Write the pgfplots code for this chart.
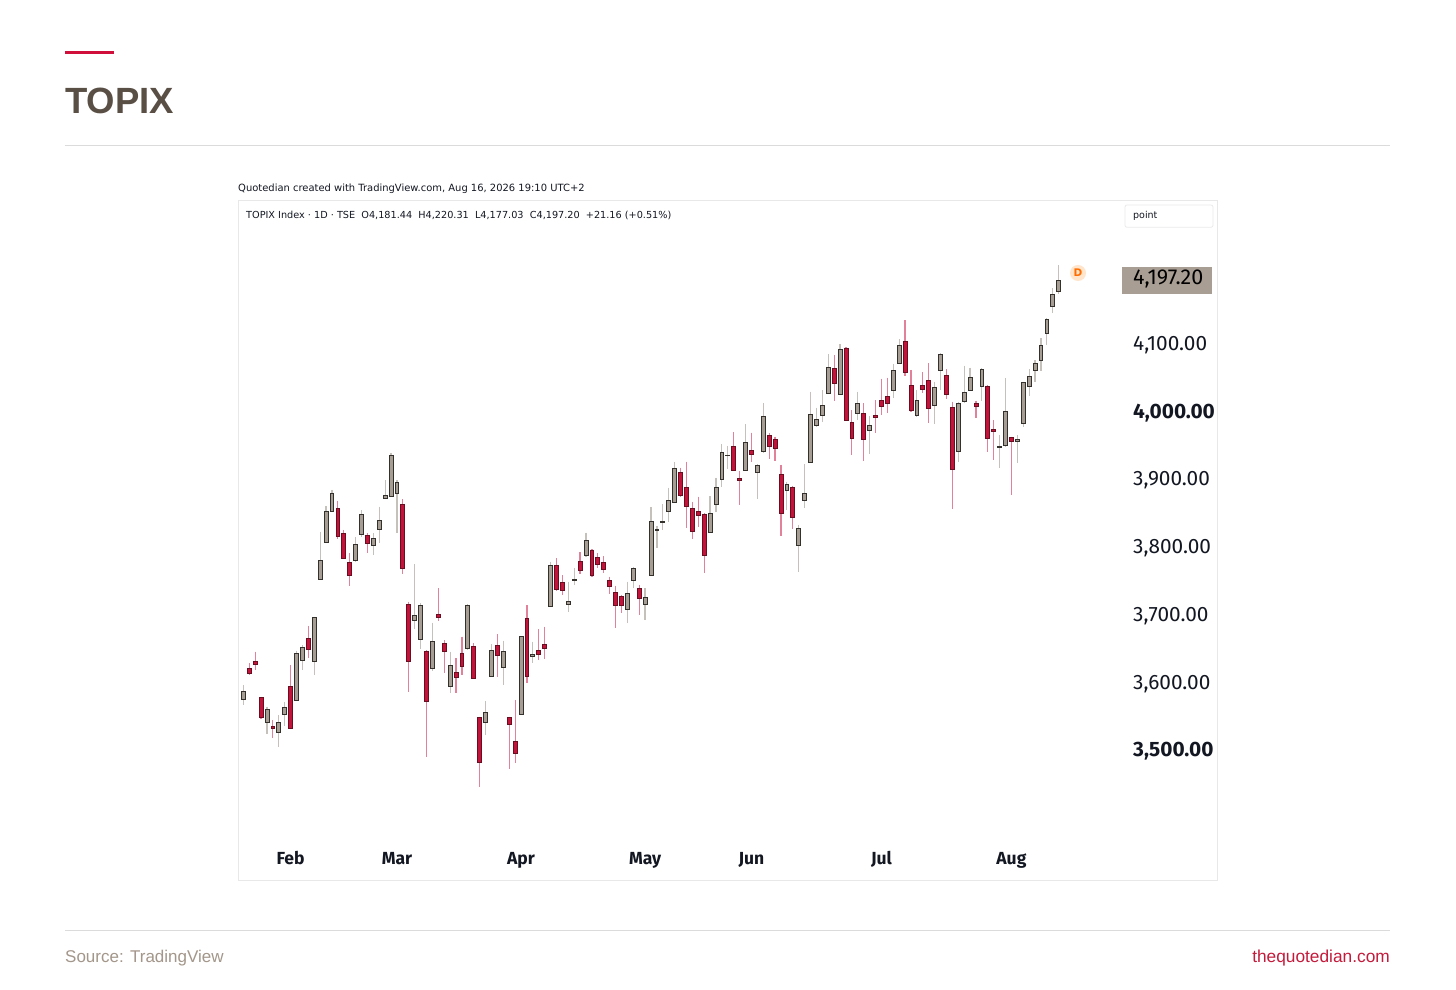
\documentclass[border=0pt]{standalone}
\usepackage{pgfplots}
\pgfplotsset{compat=1.18}
\usepackage{pgfplotstable}
\usepackage{fontspec}
\setmainfont{DejaVu Sans}
\newfontfamily\tickfont{Fira Sans}
\newfontfamily\brandfont{Liberation Sans}
\definecolor{upfill}{HTML}{A69E95}
\definecolor{upedge}{HTML}{34302C}
\definecolor{upwick}{HTML}{C6C0BA}
\definecolor{dnfill}{HTML}{C4133A}
\definecolor{dnedge}{HTML}{680E20}
\definecolor{dnwick}{HTML}{E2819A}
\definecolor{titlecol}{HTML}{5A4F45}
\definecolor{srccol}{HTML}{A3968A}
\definecolor{brandred}{HTML}{C41A3B}
\definecolor{barred}{HTML}{D0103A}
\definecolor{tvtext}{HTML}{131722}
\definecolor{pricebox}{HTML}{A99E94}

\pgfdeclareplotmark{blank}{}
\pgfplotsset{
  candle/.style n args={3}{
    scatter, only marks, mark=blank,
    visualization depends on={\thisrow{h}-\thisrow{c}\as\cndH},
    visualization depends on={\thisrow{l}-\thisrow{c}\as\cndL},
    visualization depends on={\thisrow{o}-\thisrow{c}\as\cndO},
    scatter/@pre marker code/.code={%
      \draw[#3, line width=1.2pt] (axis direction cs:0,\cndH) -- (axis direction cs:0,\cndL);
      \filldraw[fill=#1, draw=#2, line width=0.8pt] (axis direction cs:-0.33,0) rectangle (axis direction cs:0.33,\cndO);
    },
    scatter/@post marker code/.code={},
  },
}

% up (grey) candles: index, open, high, low, close
\pgfplotstableread{
k o h l c
1 3579.1 3600.3 3570.7 3590.4
5 3544.6 3568.2 3527.4 3564.4
7 3529.8 3555.9 3509.1 3545.6
8 3557.4 3575.6 3539.7 3566.7
10 3578.1 3650.9 3577.1 3647.1
11 3637.2 3659.3 3622.4 3655.9
13 3635.7 3701.2 3614.6 3699.7
14 3756.8 3826.7 3755.3 3784.4
15 3810.4 3864.6 3809.5 3856.2
16 3857.3 3888.3 3856.2 3883.4
20 3784.4 3818.4 3782.4 3808.1
21 3822.8 3858.7 3818.4 3852.8
23 3806.6 3824.3 3792.3 3816.3
24 3830.2 3863.6 3809.5 3844
25 3876 3903 3875 3880.4
26 3878.4 3942.5 3877.5 3940
27 3883.4 3903 3825.2 3899.6
30 3695.2 3779 3682.5 3703.6
31 3668.2 3721 3653 3717.4
33 3624.9 3692.3 3621 3665.2
36 3597.7 3649.4 3588.9 3629.8
39 3653.9 3719.4 3652 3718.4
42 3544.6 3576.6 3526.4 3559.9
43 3613.5 3660.8 3612.5 3652
45 3625.8 3665.7 3600.3 3650.5
48 3557 3672.5 3556 3671.6
50 3642.7 3664.2 3632.3 3645.6
53 3715.9 3782.4 3715 3776.5
56 3719.9 3752.8 3708.5 3724.3
57 3755.3 3772.6 3748 3756.4
59 3791.2 3825.2 3789.7 3814.4
66 3712.1 3752.8 3691.4 3735.7
67 3755.3 3775 3743.1 3772.6
69 3719.9 3743.1 3696.3 3729.2
70 3762.7 3862.7 3761.7 3841.5
71 3829.2 3835.1 3802.2 3830.2
72 3841 3867.6 3829.2 3842
73 3856.2 3891.7 3840.6 3873.5
74 3870.1 3929.2 3868.6 3920.3
80 3825.8 3879.4 3824.3 3853.8
81 3867.2 3906.4 3856.2 3892.3
82 3904.1 3955.8 3892.3 3943.4
83 3939 3953.3 3919.3 3940
86 3917.8 3985.8 3916.8 3958.1
88 3914.4 3926 3875 3925.2
89 3944.8 4016.3 3943.4 3997.6
93 3888.3 3900.5 3858.7 3897.1
95 3807.1 3836.6 3767.6 3831.7
96 3872.5 3926.2 3861.2 3883.4
97 3928.6 4033.5 3927.7 4000.1
98 3984.3 4009.8 3981.8 3992.7
99 3998.6 4036 3989.2 4013.8
100 4031.1 4089.1 4030 4069.5
102 4030.1 4103.9 4028.6 4096.1
105 4001.6 4033.5 3991.7 4016.3
107 3976.9 3997.6 3941.4 3983.2
111 4034.9 4073.9 4023.7 4065.5
112 4075.4 4110.9 4073.9 4102.4
115 3998 4036 3996.5 4021.2
118 4013.4 4048.2 3985.8 4040
119 4065.5 4090.2 4036 4088.7
122 3944.8 4018.7 3930.1 4016.3
123 4018.7 4071.9 4017.2 4033
124 4036 4068.9 4035 4054.7
126 4040.8 4068 4020.2 4067
129 3951.3 3969.5 3920.3 3953.3
130 3953.7 4053.3 3952.2 4003.9
132 3960.6 3969.5 3927.7 3962.6
133 3986.8 4048.2 3981.8 4047.3
134 4041.9 4067 4027.6 4056.6
135 4064.5 4080.3 4047.3 4075.9
136 4079.2 4112.3 4064.5 4101.4
137 4119.7 4141.9 4102.4 4140.4
138 4159 4186.2 4149.3 4177.3
139 4181.44 4220.31 4177.03 4197.20
}\upcandles

% down (red) candles: index, open, high, low, close
\pgfplotstableread{
k o h l c
0 3642.1 3646 3623.9 3625.8
2 3625.4 3632.3 3615 3617.5
3 3635.3 3649.4 3622.4 3630.2
4 3581.5 3583 3549.6 3552.5
6 3538.7 3548.6 3521.5 3536.7
9 3597.7 3629.8 3535.3 3536.3
12 3668.6 3687.4 3639.7 3653
17 3861.2 3872.5 3816.3 3819.3
18 3824.3 3829.2 3785.9 3787.8
19 3781.9 3794.8 3746.9 3761.7
22 3821.8 3824.3 3795.7 3809.5
28 3867.6 3874.5 3764.2 3772
29 3719.4 3723.3 3590.4 3634.7
32 3650.5 3652 3494.4 3576.6
34 3705.1 3743.1 3695.2 3699.7
35 3661.8 3666.7 3617.5 3649.4
37 3619 3639.7 3588 3611.6
38 3647.1 3671.6 3615 3627.3
40 3657.9 3661.8 3608.7 3610.2
41 3552 3553.4 3449.2 3486.5
44 3659.3 3675.1 3612.5 3644.1
46 3552 3553.4 3475.7 3542.7
47 3517.5 3578.1 3484.6 3499.4
49 3698.2 3718 3602.8 3612.5
51 3651.5 3682.5 3637.2 3646
52 3659.8 3686.4 3638.2 3654.9
54 3777.5 3787.4 3739 3742
55 3751.4 3762.7 3733.2 3739.5
58 3783.4 3796.3 3764.2 3770.1
60 3798.6 3800.7 3760.2 3761.7
61 3788.9 3794.8 3773.5 3778.5
62 3780.9 3790.8 3765.2 3771.2
63 3755.3 3760.2 3734.7 3746.5
64 3737.2 3746.9 3684 3717.4
65 3730.7 3733.2 3707 3718.4
68 3743.1 3748 3703.6 3728.3
75 3914.9 3921.2 3878.4 3879.9
76 3892.3 3930.1 3831.7 3863.6
77 3860.7 3871 3815.4 3827.7
78 3856.8 3878.4 3834.1 3851.3
79 3852.8 3853.8 3765.2 3792.3
84 3952.2 3973.5 3916.8 3917.8
85 3906 3916.3 3866.1 3902.6
87 3947.3 3972.9 3930.1 3941.4
90 3969.5 3972 3933.6 3952.2
91 3963.2 3967 3931.6 3949.9
92 3911.5 3925.2 3820.3 3853.8
94 3891.7 3894.2 3830.2 3847.9
101 4068 4087.6 4020.2 4045.9
103 4097.6 4099 3990.6 3991.7
104 3988.3 4006.4 3940 3964.6
106 4001.6 4016.3 3931.5 3963.2
108 3999.1 4021.2 3972.9 3995.6
109 4020.2 4052.8 3999.1 4011.3
110 4026.1 4054.3 4002.4 4015.7
113 4108.3 4139.4 4057.1 4062.1
114 4042.3 4065.5 4003.9 4006.4
116 4043.4 4062.1 4031.1 4037
117 4050.7 4075.4 3986.8 4008.4
120 4057.1 4066.5 4023.1 4029
121 4010.4 4018.7 3859.8 3919.3
125 4016.3 4020.2 3994.2 4011.3
127 4041.9 4043.4 3944.8 3964
128 3977.3 3991.7 3932.6 3974.4
131 3966.6 3967 3880.9 3960.6
}\downcandles

\begin{document}
\begin{tikzpicture}[x=1pt,y=1pt]
\useasboundingbox (0,0) rectangle (1456,990);
\fill[white] (0,0) rectangle (1456,990);

% header
\fill[barred] (65,935.7) rectangle (114,939.3);
\node[anchor=base west, inner sep=0pt, text=titlecol, font=\brandfont\bfseries\fontsize{36.5}{40}\selectfont] at (65,876) {TOPIX};
\draw[black!14, line width=1pt] (65,844.3) -- (1390,844.3);

\node[anchor=west, inner sep=0pt, text=tvtext, font=\fontsize{9.95}{12}\selectfont] at (238,801) {Quotedian created with TradingView.com, Aug 16, 2026 19:10 UTC+2};

\begin{axis}[
  at={(238pt,109.3pt)}, anchor=south west,
  scale only axis, width=979pt, height=680.7pt,
  xmin=0.1, xmax=165.8, ymin=3311.2, ymax=4316.6,
  axis line style={draw=black!9, line width=0.8pt},
  major tick length=0pt, tick style={draw=none},
  xtick={9,27,48,69,87,109,131},
  xticklabels={Feb,Mar,Apr,May,Jun,Jul,Aug},
  xticklabel style={font=\tickfont\bfseries\fontsize{17.5}{20}\selectfont, text=tvtext, anchor=base, yshift=15.7pt},
  ytick={3500,3600,3700,3800,3900,4000,4100},
  yticklabels={{\bfseries 3,500.00},{3,600.00},{3,700.00},{3,800.00},{3,900.00},{\bfseries 4,000.00},{4,100.00}},
  yticklabel pos=right,
  yticklabel style={font=\tickfont\fontsize{20.8}{24}\selectfont, text=tvtext, anchor=west, inner sep=0pt, xshift=-84pt, yshift=1.5pt},
]
\addplot[candle={upfill}{upedge}{upwick}] table[x=k, y=c] {\upcandles};
\addplot[candle={dnfill}{dnedge}{dnwick}] table[x=k, y=c] {\downcandles};
\end{axis}

% legend line inside chart
\node[anchor=west, inner sep=0pt, text=tvtext, font=\fontsize{9.7}{12}\selectfont] at (246,775) {TOPIX Index · 1D · TSE\ \ O4,181.44\ \ H4,220.31\ \ L4,177.03\ \ C4,197.20\ \ +21.16 (+0.51\%)};

% "point" box
\draw[black!8, fill=white, rounded corners=2pt, line width=0.8pt] (1125,762.7) rectangle (1213,785);
\node[anchor=west, inner sep=0pt, text=tvtext, font=\fontsize{9.5}{11}\selectfont] at (1133,774) {point};

% last price label
\fill[pricebox] (1121.7,696) rectangle (1212.3,722.7);
\node[anchor=west, inner sep=0pt, text=black, font=\tickfont\fontsize{21.5}{24}\selectfont] at (1133,710.8) {4,197.20};

% D marker
\fill[orange!20] (1078,717) circle (8);
\node[inner sep=0pt, text=orange!85!red, font=\bfseries\fontsize{10.5}{12}\selectfont] at (1078,717) {D};

% footer
\draw[black!14, line width=1pt] (65,59.3) -- (1390,59.3);
\node[anchor=base west, inner sep=0pt, text=srccol, font=\brandfont\fontsize{17}{20}\selectfont] at (65,27) {Source: TradingView};
\node[anchor=base east, inner sep=0pt, text=brandred, font=\brandfont\fontsize{17.3}{20}\selectfont] at (1390,27) {thequotedian.com};
\end{tikzpicture}
\end{document}
